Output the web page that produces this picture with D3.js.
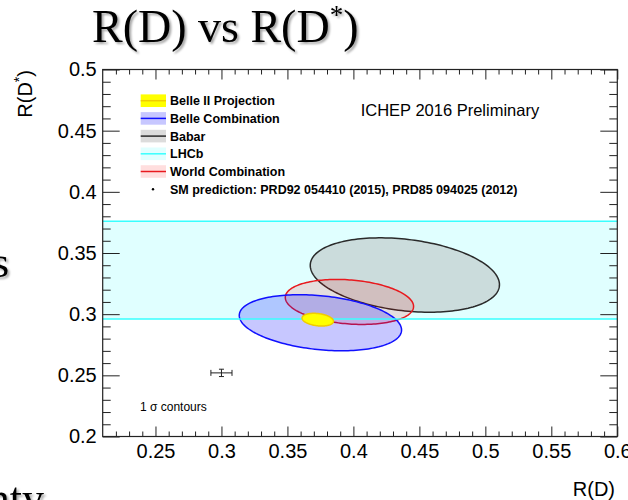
<!DOCTYPE html>
<html>
<head>
<meta charset="utf-8">
<script src="https://cdn.jsdelivr.net/npm/d3@7"></script>
<style>
  html, body { margin: 0; padding: 0; background: #fff; }
  svg { display: block; }
</style>
</head>
<body>
<svg id="chart" width="628" height="500"></svg>
<script>
// ---- Data ----------------------------------------------------------------
// 1-sigma contours: central values, half-widths and correlation
const contourNames  = ["Babar", "World Combination", "Belle Combination", "Belle II Projection"];
const contourRD     = [0.439, 0.397, 0.375, 0.373];
const contourRDs    = [0.332, 0.310, 0.293, 0.2955];
const contourErrRD  = [0.0717, 0.0486, 0.0615, 0.0119];
const contourErrRDs = [0.0304, 0.0184, 0.0229, 0.0052];
const contourRho    = [-0.26, -0.20, -0.26, -0.25];

// LHCb R(D*) measurement band (low, high)
const lhcbBand = [0.296, 0.376];

// Standard Model prediction
const smRD = 0.300, smRDErr = 0.008;
const smRDs = 0.252, smRDsErr = 0.003;

// Axes
const xDomain = [0.21, 0.6];
const yDomain = [0.2, 0.5];
const xTicks = [0.25, 0.3, 0.35, 0.4, 0.45, 0.5, 0.55, 0.6];
const xTickLabels = ["0.25", "0.3", "0.35", "0.4", "0.45", "0.5", "0.55", "0.6"];
const yTicks = [0.2, 0.25, 0.3, 0.35, 0.4, 0.45, 0.5];
const yTickLabels = ["0.2", "0.25", "0.3", "0.35", "0.4", "0.45", "0.5"];

// Legend entries, top to bottom
const legendLabels = [
  "Belle II Projection",
  "Belle Combination",
  "Babar",
  "LHCb",
  "World Combination",
  "SM prediction: PRD92 054410 (2015), PRD85 094025 (2012)"
];

// ---- Styles --------------------------------------------------------------
const styles = {
  "Babar":               { fill: "rgba(178,178,178,0.45)", stroke: "#2a2a2a" },
  "World Combination":   { fill: "rgba(255,0,0,0.13)",     stroke: "#e8191e" },
  "Belle Combination":   { fill: "rgba(0,0,255,0.22)",     stroke: "#1010ff" },
  "Belle II Projection": { fill: "#ffff00",                stroke: "#f0cc00" },
  "LHCb":                { fill: "#e0ffff",                stroke: "#38ffff" }
};

// ---- Layout --------------------------------------------------------------
const svg = d3.select("#chart");
const plot = { left: 102.7, right: 617.3, top: 69.5, bottom: 436.5 };

const x = d3.scaleLinear().domain(xDomain).range([plot.left, plot.right]);
const y = d3.scaleLinear().domain(yDomain).range([plot.bottom, plot.top]);

const defs = svg.append("defs");
const shadow = defs.append("filter").attr("id", "shadow")
  .attr("x", "-10%").attr("y", "-10%").attr("width", "130%").attr("height", "140%");
shadow.append("feDropShadow")
  .attr("dx", 2).attr("dy", 2).attr("stdDeviation", 1.2)
  .attr("flood-color", "#000").attr("flood-opacity", 0.35);

defs.append("clipPath").attr("id", "plot-clip")
  .append("rect")
  .attr("x", plot.left).attr("y", plot.top)
  .attr("width", plot.right - plot.left).attr("height", plot.bottom - plot.top);

svg.append("rect").attr("width", 628).attr("height", 500).attr("fill", "#fff");

// ---- Slide text ----------------------------------------------------------
const serif = "'Liberation Serif', 'Times New Roman', serif";
const title = svg.append("text")
  .attr("x", 92).attr("y", 42)
  .attr("font-family", serif).attr("font-size", 46)
  .attr("fill", "#000").attr("filter", "url(#shadow)");
title.append("tspan").text("R(D) vs R(D");
title.append("tspan").attr("font-size", 27).attr("dy", -18).text("*");
title.append("tspan").attr("dy", 18).text(")");

svg.append("text")
  .attr("x", 9).attr("y", 277).attr("text-anchor", "end")
  .attr("font-family", serif).attr("font-size", 44)
  .attr("filter", "url(#shadow)").text("s");

svg.append("text")
  .attr("x", 44).attr("y", 513).attr("text-anchor", "end")
  .attr("font-family", serif).attr("font-size", 44)
  .attr("filter", "url(#shadow)").text("nty");

// ---- Plot contents -------------------------------------------------------
const content = svg.append("g").attr("clip-path", "url(#plot-clip)");

// LHCb band
content.append("rect")
  .attr("x", x(xDomain[0])).attr("width", x(xDomain[1]) - x(xDomain[0]))
  .attr("y", y(lhcbBand[1])).attr("height", y(lhcbBand[0]) - y(lhcbBand[1]))
  .attr("fill", styles["LHCb"].fill);

// Contour ellipse points from a correlated Gaussian
function ellipsePoints(i) {
  const n = 180;
  const r = contourRho[i];
  return d3.range(n).map(k => {
    const t = 2 * Math.PI * k / n;
    return [
      contourRD[i] + contourErrRD[i] * Math.cos(t),
      contourRDs[i] + contourErrRDs[i] * (r * Math.cos(t) + Math.sqrt(1 - r * r) * Math.sin(t))
    ];
  });
}
const ellipseLine = d3.line()
  .x(d => x(d[0])).y(d => y(d[1]))
  .curve(d3.curveLinearClosed);

function drawContour(i) {
  const st = styles[contourNames[i]];
  content.append("path")
    .attr("d", ellipseLine(ellipsePoints(i)))
    .attr("fill", st.fill)
    .attr("stroke", st.stroke)
    .attr("stroke-width", 1.5);
}

// Babar, World, Belle
drawContour(0);
drawContour(1);
drawContour(2);

// LHCb band edges
lhcbBand.forEach(v => {
  content.append("line")
    .attr("x1", x(xDomain[0])).attr("x2", x(xDomain[1]))
    .attr("y1", y(v)).attr("y2", y(v))
    .attr("stroke", styles["LHCb"].stroke).attr("stroke-width", 1.6);
});

// Belle II projection on top
drawContour(3);

// SM prediction with error bars
const sm = content.append("g").attr("stroke", "#222").attr("stroke-width", 1);
sm.append("line")
  .attr("x1", x(smRD - smRDErr)).attr("x2", x(smRD + smRDErr))
  .attr("y1", y(smRDs)).attr("y2", y(smRDs));
sm.append("line")
  .attr("x1", x(smRD)).attr("x2", x(smRD))
  .attr("y1", y(smRDs - smRDsErr)).attr("y2", y(smRDs + smRDsErr));
[smRD - smRDErr, smRD + smRDErr].forEach(v => {
  sm.append("line").attr("x1", x(v)).attr("x2", x(v))
    .attr("y1", y(smRDs) - 3).attr("y2", y(smRDs) + 3);
});
[smRDs - smRDsErr, smRDs + smRDsErr].forEach(v => {
  sm.append("line").attr("x1", x(smRD) - 2.5).attr("x2", x(smRD) + 2.5)
    .attr("y1", y(v)).attr("y2", y(v));
});

// ---- Axes ----------------------------------------------------------------
const sans = "'Liberation Sans', Arial, Helvetica, sans-serif";
const minorX = d3.range(22, 61).map(v => v / 100).filter(v => Math.round(v * 100) % 5 !== 0);
const minorY = d3.range(21, 50).map(v => v / 100).filter(v => Math.round(v * 100) % 5 !== 0);

function styleAxis(g) {
  g.select(".domain").remove();
  g.selectAll(".tick line").attr("stroke", "#222").attr("stroke-width", 1);
  g.selectAll("text").attr("font-family", sans).attr("font-size", 20).attr("fill", "#000");
}

const axes = svg.append("g");

axes.append("g").attr("transform", `translate(0,${plot.bottom})`)
  .call(d3.axisBottom(x).tickValues(xTicks)
    .tickFormat((d, i) => xTickLabels[i]).tickSizeInner(-10).tickSizeOuter(0).tickPadding(7))
  .call(styleAxis);
axes.append("g").attr("transform", `translate(0,${plot.bottom})`)
  .call(d3.axisBottom(x).tickValues(minorX).tickFormat("").tickSizeInner(-5).tickSizeOuter(0))
  .call(styleAxis);

axes.append("g").attr("transform", `translate(0,${plot.top})`)
  .call(d3.axisTop(x).tickValues(xTicks).tickFormat("").tickSizeInner(-10).tickSizeOuter(0))
  .call(styleAxis);
axes.append("g").attr("transform", `translate(0,${plot.top})`)
  .call(d3.axisTop(x).tickValues(minorX).tickFormat("").tickSizeInner(-5).tickSizeOuter(0))
  .call(styleAxis);

axes.append("g").attr("transform", `translate(${plot.left},0)`)
  .call(d3.axisLeft(y).tickValues(yTicks)
    .tickFormat((d, i) => yTickLabels[i]).tickSizeInner(-17).tickSizeOuter(0).tickPadding(6))
  .call(styleAxis);
axes.append("g").attr("transform", `translate(${plot.left},0)`)
  .call(d3.axisLeft(y).tickValues(minorY).tickFormat("").tickSizeInner(-8).tickSizeOuter(0))
  .call(styleAxis);

axes.append("g").attr("transform", `translate(${plot.right},0)`)
  .call(d3.axisRight(y).tickValues(yTicks).tickFormat("").tickSizeInner(-17).tickSizeOuter(0))
  .call(styleAxis);
axes.append("g").attr("transform", `translate(${plot.right},0)`)
  .call(d3.axisRight(y).tickValues(minorY).tickFormat("").tickSizeInner(-8).tickSizeOuter(0))
  .call(styleAxis);

// Frame
svg.append("rect")
  .attr("x", plot.left).attr("y", plot.top)
  .attr("width", plot.right - plot.left).attr("height", plot.bottom - plot.top)
  .attr("fill", "none").attr("stroke", "#222").attr("stroke-width", 1.2);

// Axis titles
svg.append("text")
  .attr("x", 615).attr("y", 496).attr("text-anchor", "end")
  .attr("font-family", sans).attr("font-size", 20).text("R(D)");

const yTitle = svg.append("text")
  .attr("transform", "translate(32,70) rotate(-90)")
  .attr("text-anchor", "end")
  .attr("font-family", sans).attr("font-size", 20);
yTitle.append("tspan").text("R(D");
yTitle.append("tspan").attr("font-size", 14).attr("dy", -8).text("*");
yTitle.append("tspan").attr("dy", 8).text(")");

// ---- Annotations ---------------------------------------------------------
svg.append("text")
  .attr("x", 360.7).attr("y", 116)
  .attr("font-family", sans).attr("font-size", 16.5).text("ICHEP 2016 Preliminary");

svg.append("text")
  .attr("x", 140).attr("y", 411)
  .attr("font-family", sans).attr("font-size", 12).text("1 σ contours");

// ---- Legend --------------------------------------------------------------
const legendY = d3.scaleLinear().domain([0, legendLabels.length - 1]).range([100.7, 189.2]);
const legendKeys = ["Belle II Projection", "Belle Combination", "Babar", "LHCb", "World Combination", null];
const legend = svg.append("g");
legendLabels.forEach((label, i) => {
  const cy = legendY(i);
  const key = legendKeys[i];
  if (key) {
    const st = styles[key];
    legend.append("rect")
      .attr("x", 140.7).attr("y", cy - 6.3).attr("width", 25.3).attr("height", 12.6)
      .attr("fill", st.fill);
    legend.append("line")
      .attr("x1", 140.7).attr("x2", 166).attr("y1", cy).attr("y2", cy)
      .attr("stroke", st.stroke).attr("stroke-width", 1.5);
  } else {
    legend.append("circle").attr("cx", 153).attr("cy", cy).attr("r", 1.2).attr("fill", "#000");
  }
  legend.append("text")
    .attr("x", 170).attr("y", cy + 4.4)
    .attr("font-family", sans).attr("font-weight", "bold").attr("font-size", 12.5)
    .text(label);
});
</script>
</body>
</html>
